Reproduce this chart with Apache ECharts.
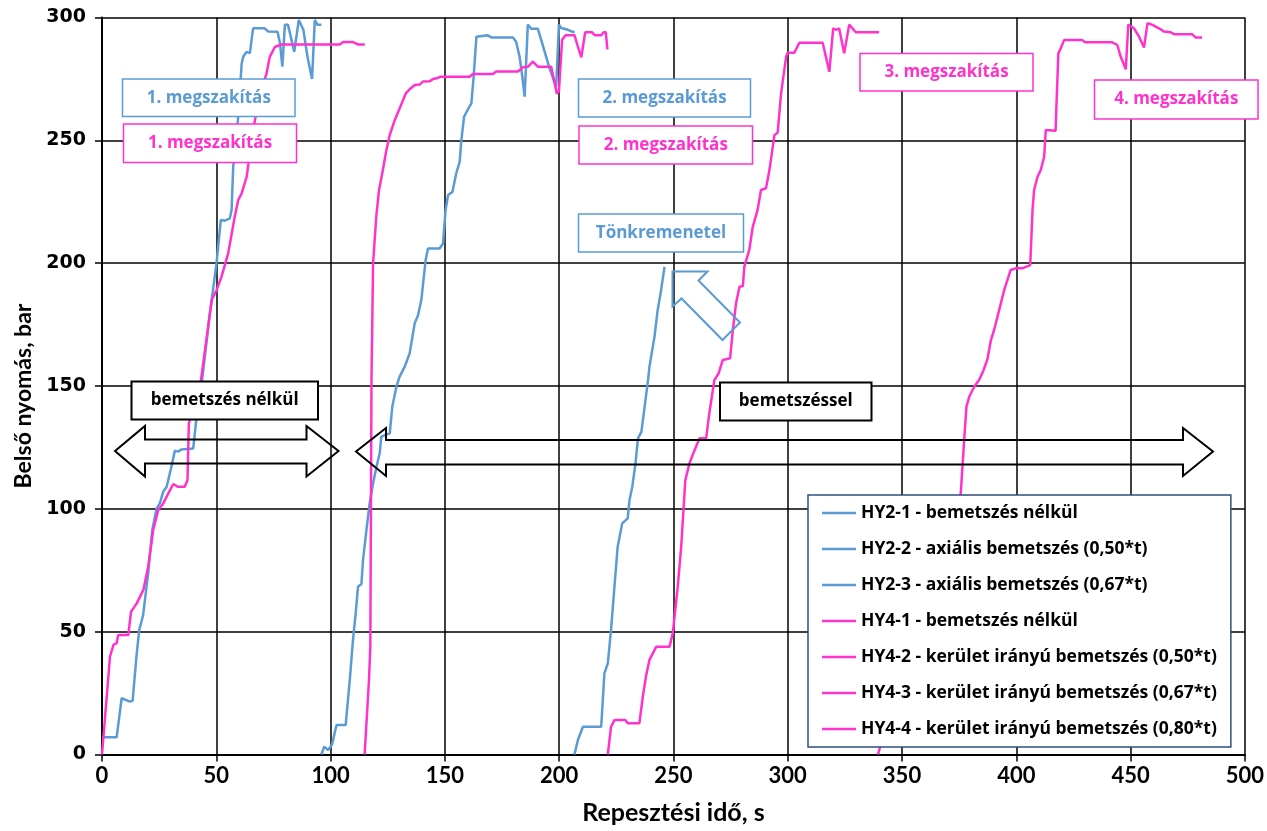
<!DOCTYPE html>
<html>
<head>
<meta charset="utf-8">
<script src="https://cdn.jsdelivr.net/npm/echarts@6/dist/echarts.min.js"></script>
<style>
html,body{margin:0;padding:0;background:#fff;}
#chart{width:1267px;height:831px;}
</style>
</head>
<body>
<div id="chart"></div>
<script>
// ---- Data (time s, pressure bar) ----
const seriesNames = [
  'HY2-1 - bemetszés nélkül',
  'HY2-2 - axiális bemetszés (0,50*t)',
  'HY2-3 - axiális bemetszés (0,67*t)',
  'HY4-1 - bemetszés nélkül',
  'HY4-2 - kerület irányú bemetszés (0,50*t)',
  'HY4-3 - kerület irányú bemetszés (0,67*t)',
  'HY4-4 - kerület irányú bemetszés (0,80*t)'
];
const xTicks = [0,50,100,150,200,250,300,350,400,450,500];
const yTicks = [0,50,100,150,200,250,300];

const hy21 = [[0,7],[6.4,7],[8.6,22.9],[12.2,21.5],[13.4,21.9],[15.2,41.2],[16.3,50.7],[18,56.8],[20.2,73.8],[22,91.4],[23.9,100.2],[25.3,102.2],[26.8,107],[28.3,109],[30.2,116.5],[31.9,123.7],[33.3,123.3],[34.8,124.2],[39.9,124.6],[40.6,130.7],[41.4,137.5],[43.8,152.4],[47,178],[50.1,200],[52,217.6],[53.8,217.3],[55.9,218.2],[56.7,221.6],[57.4,239.3],[59.6,259.6],[61.1,281.3],[61.8,284],[63.2,286],[64.7,285.5],[66.1,295.6],[66.8,296.3],[71.2,295.6],[72.7,294.3],[76.8,294.2],[77.9,289.4],[78.9,280],[80,297],[81.4,297],[84.1,286],[86.1,299],[88.1,295],[89.9,284],[91.9,275],[93.1,299],[94.3,297],[96,297]];
const hy22 = [[96,0],[97.2,3.2],[98.9,1.8],[100.6,4],[102.6,12],[106.6,12],[108.4,30.3],[109.8,46.6],[111,57.5],[112,68.3],[113.5,69.4],[114.2,79.2],[115.7,91.4],[117.1,102.2],[118.6,110.4],[120.1,117.1],[121.5,122.6],[122.2,129.4],[123.7,130],[125.9,130.7],[127,141.6],[128.8,149.7],[130.2,153.8],[132.4,157.8],[134.6,163.3],[136.8,175.5],[138.3,178.9],[139.7,185],[141.6,201.3],[142.6,206],[147.7,206],[149.2,208],[150.3,221.6],[151.4,227.7],[153.3,229],[155,236.6],[156.5,241.3],[157.2,250],[158.4,259.6],[159.9,262.3],[161.6,265],[162.6,275.9],[163.8,292.2],[164.5,292.8],[168.8,292.8],[170.3,291.9],[179.8,291.9],[181.2,290],[182.7,284],[183.9,275.9],[184.9,267.8],[186.3,297.1],[187.8,295.4],[190.7,295.4],[192.6,289.5],[195.8,279.3],[198.7,271.8],[199.9,297.1],[200.9,295.7],[203.8,295],[206.7,293.9]];
const hy23 = [[206.7,0],[208.2,5.9],[210.4,11.3],[218.4,11.3],[219.8,33],[221.3,37.1],[222.7,50.7],[224.2,68.3],[225.6,84.6],[227.6,94.1],[230,96.1],[230.8,103.6],[232,109],[233.4,118.5],[234.5,128.7],[236,131.4],[237.4,141.6],[238.9,152.4],[239.5,157.8],[241.7,170],[243.1,180.9],[244.6,189],[246.1,198.5]];
const hy41 = [[0,0],[3.5,39.8],[5,44.6],[6.4,45.3],[7.1,48.6],[11.5,48.6],[12.7,58.1],[15.2,61.5],[18.1,67],[20.2,76.4],[22.4,91.4],[24.6,99.5],[26.8,102.2],[29,106.3],[31.2,110.1],[33.1,109],[36.2,109],[37.4,111.7],[38,134.8],[43.3,152.4],[48,185],[50.1,189],[52.3,194.5],[55.2,204],[58.1,219],[59.6,225.7],[61.1,228.4],[63.3,235.2],[64.7,244.7],[66.9,258.3],[69.8,270.5],[72,277.3],[73.4,284],[75.6,288],[78.5,289],[104,289],[105.5,290],[109.8,290],[112.1,289],[115,289]];
const hy42 = [[114.9,0],[116.8,30.3],[117.4,43.9],[117.9,152.4],[118.6,200],[120,219],[121.2,229.8],[122.9,238],[124.4,246],[125.9,252.2],[128.1,258.3],[130.2,263],[132.9,269.1],[134.6,270.8],[136.8,272.5],[139,272.7],[140.4,273.9],[143.3,274],[144.8,275],[147,275.4],[148,275.9],[160.8,275.9],[162.3,277],[171,277],[172.5,278],[182,278],[184.2,279.8],[186.4,280],[188.5,282],[190.7,280],[196.5,280],[199,269],[199.9,270],[201.3,290.9],[202.8,292.8],[206.7,292.8],[208.2,288.1],[209.7,283.8],[210.4,283.8],[211.4,294],[214.3,294],[215.6,292.8],[218.4,292.8],[219.5,294],[220.4,294],[221.1,287]];
const hy43 = [[221.3,0],[222.7,11.3],[224.2,14],[229,14],[230,12.7],[235.1,12.7],[236.6,23.5],[238.1,32.4],[239.5,38.5],[242.5,43.9],[248.3,43.9],[249.7,49.3],[251.9,68.3],[253.4,84.6],[255.2,111.7],[257,118.5],[258.4,121.9],[261.4,128.7],[264.3,128.7],[265.7,138.9],[267.9,152.4],[269.8,155.2],[271.6,160.6],[274.8,161.3],[276,172.8],[277.4,183.7],[278.9,190.4],[280.4,190.7],[281,198.5],[283.2,205.4],[284.7,214.8],[286.8,221.6],[288.3,229.8],[290.5,230.5],[292,237.9],[294.2,252.2],[295.6,253.1],[297.1,269.1],[299.3,284],[300,285.7],[302.9,285.7],[305.1,289.7],[315.3,289.7],[316.7,284],[318.2,277.9],[319.9,295.6],[321.4,295],[322.5,295.6],[324.7,285.4],[326.9,297.1],[329.8,294],[340,294]];
const hy44 = [[339.5,0],[341,5],[375.7,106.3],[377.2,128],[378.2,141.6],[379.4,145.6],[381.6,149.7],[383.7,152.4],[385.5,156],[387.4,161],[388.9,168.7],[390.3,172.8],[392.5,180.9],[394.7,189],[397.5,197.2],[399.7,197.9],[402.7,197.9],[404.2,198.5],[406.1,199.2],[407.1,221.6],[407.8,229.8],[409.3,235.2],[410.7,237.9],[412.2,243.3],[412.9,254.2],[413.6,254.5],[417.2,253.9],[417.5,262.3],[418.4,285.4],[419.4,287.4],[420.9,290.8],[428.9,290.8],[430.1,289.9],[442,289.9],[444.2,288.8],[445.7,284],[447.9,278.9],[449,297.1],[451.5,295.6],[453.7,292.2],[455.9,287.8],[457.4,297.7],[459.6,297],[462.4,295.6],[464.6,294.3],[467.5,294],[469,293.2],[476.9,293.2],[478.4,291.9],[481.3,291.9]];

const seriesData = [hy21, hy22, hy23, hy41, hy42, hy43, hy44];

// ---- Styles ----
const BLUE = '#5B9BD5';
const PINK = '#FF33CC';
const seriesColors = [BLUE, BLUE, BLUE, PINK, PINK, PINK, PINK];
const FONT = '"Open Sans", Lato, sans-serif';

function box(x, y, w, h, text, color, stroke, lw) {
  return [
    {
      type: 'rect', z: 100,
      shape: {x: x, y: y, width: w, height: h},
      style: {fill: '#fff', stroke: stroke, lineWidth: lw}
    },
    {
      type: 'text', z: 101,
      x: x + w / 2, y: y + h / 2,
      style: {
        text: text, fill: color, font: 'bold 17px ' + FONT,
        align: 'center', verticalAlign: 'middle',
        textAlign: 'center', textVerticalAlign: 'middle'
      }
    }
  ];
}

const graphics = [].concat(
  box(122.5, 79, 172.5, 37.5, '1. megszakítás', BLUE, BLUE, 1.5),
  box(123.5, 124, 173, 38.5, '1. megszakítás', PINK, PINK, 1.5),
  box(578.5, 79, 172, 38, '2. megszakítás', BLUE, BLUE, 1.5),
  box(579, 126, 173.5, 38, '2. megszakítás', PINK, PINK, 1.5),
  box(578.5, 214, 165, 38, 'Tönkremenetel', BLUE, BLUE, 1.5),
  box(860, 53.5, 173, 37.5, '3. megszakítás', PINK, PINK, 1.5),
  box(1094.5, 80, 163.5, 39, '4. megszakítás', PINK, PINK, 1.5),
  box(131.5, 381.5, 186.5, 38, 'bemetszés nélkül', '#000', '#000', 2),
  box(720, 382.5, 151.5, 38, 'bemetszéssel', '#000', '#000', 2),
  [
    {
      type: 'polygon', z: 100,
      shape: {points: [[115,451],[145,426],[145,439.5],[306.5,439.5],[306.5,426],[338.5,451],[306.5,476.5],[306.5,463.5],[145,463.5],[145,476.5]]},
      style: {fill: 'none', stroke: '#000', lineWidth: 2}
    },
    {
      type: 'polygon', z: 100,
      shape: {points: [[356,451.5],[386,428],[386,440],[1183,440],[1183,428],[1213,451.5],[1183,476],[1183,464.5],[386,464.5],[386,476]]},
      style: {fill: 'none', stroke: '#000', lineWidth: 2}
    },
    {
      type: 'polygon', z: 100,
      shape: {points: [[672.5,271.5],[707.5,271.5],[698.5,280.5],[740,322.5],[722.5,340],[681.5,298.5],[672.5,306.5]]},
      style: {fill: 'none', stroke: BLUE, lineWidth: 2}
    }
  ]
);

const chart = echarts.init(document.getElementById('chart'), null, {renderer: 'canvas'});
const option = {
  animation: false,
  backgroundColor: '#fff',
  grid: {left: 102, right: 21, top: 17.5, bottom: 76.5, containLabel: false},
  xAxis: {
    type: 'value', min: xTicks[0], max: xTicks[xTicks.length - 1], interval: 50,
    axisLine: {lineStyle: {color: '#000', width: 2}},
    axisTick: {show: true, length: 7, lineStyle: {color: '#000', width: 1.5}},
    axisLabel: {margin: 10, color: '#000', fontFamily: 'Lato, sans-serif', fontWeight: 'bold', fontSize: 22},
    splitLine: {show: true, lineStyle: {color: '#000', width: 1.5}},
    name: 'Repesztési idő, s', nameLocation: 'middle', nameGap: 46,
    nameTextStyle: {color: '#000', fontFamily: 'Lato, sans-serif', fontWeight: 'bold', fontSize: 25}
  },
  yAxis: {
    type: 'value', min: yTicks[0], max: yTicks[yTicks.length - 1], interval: 50,
    axisLine: {show: true, lineStyle: {color: '#000', width: 2}},
    axisTick: {show: true, length: 7, lineStyle: {color: '#000', width: 1.5}},
    axisLabel: {margin: 16, color: '#000', fontFamily: '"DejaVu Sans", sans-serif', fontWeight: 'bold', fontSize: 19},
    splitLine: {show: true, lineStyle: {color: '#000', width: 1.5}},
    name: 'Belső nyomás, bar', nameLocation: 'middle', nameGap: 63,
    nameTextStyle: {color: '#000', fontFamily: 'Lato, sans-serif', fontWeight: 'bold', fontSize: 23, padding: [0, 20, 0, 0]}
  },
  legend: {
    orient: 'vertical', left: 808, top: 495,
    icon: 'rect', itemWidth: 34, itemHeight: 2.5, itemGap: 16,
    padding: [8, 14, 8, 14],
    backgroundColor: '#fff', borderColor: '#2F4E7F', borderWidth: 1.5,
    textStyle: {color: '#000', fontFamily: FONT, fontWeight: 'bold', fontSize: 17.5, lineHeight: 20},
    data: seriesNames
  },
  series: seriesData.map((d, i) => ({
    name: seriesNames[i], type: 'line', data: d,
    symbol: 'none', showSymbol: false, smooth: false,
    color: seriesColors[i],
    itemStyle: {color: seriesColors[i]},
    lineStyle: {color: seriesColors[i], width: 2.5},
    z: 2
  })),
  graphic: graphics
};
chart.setOption(option);
</script>
</body>
</html>
